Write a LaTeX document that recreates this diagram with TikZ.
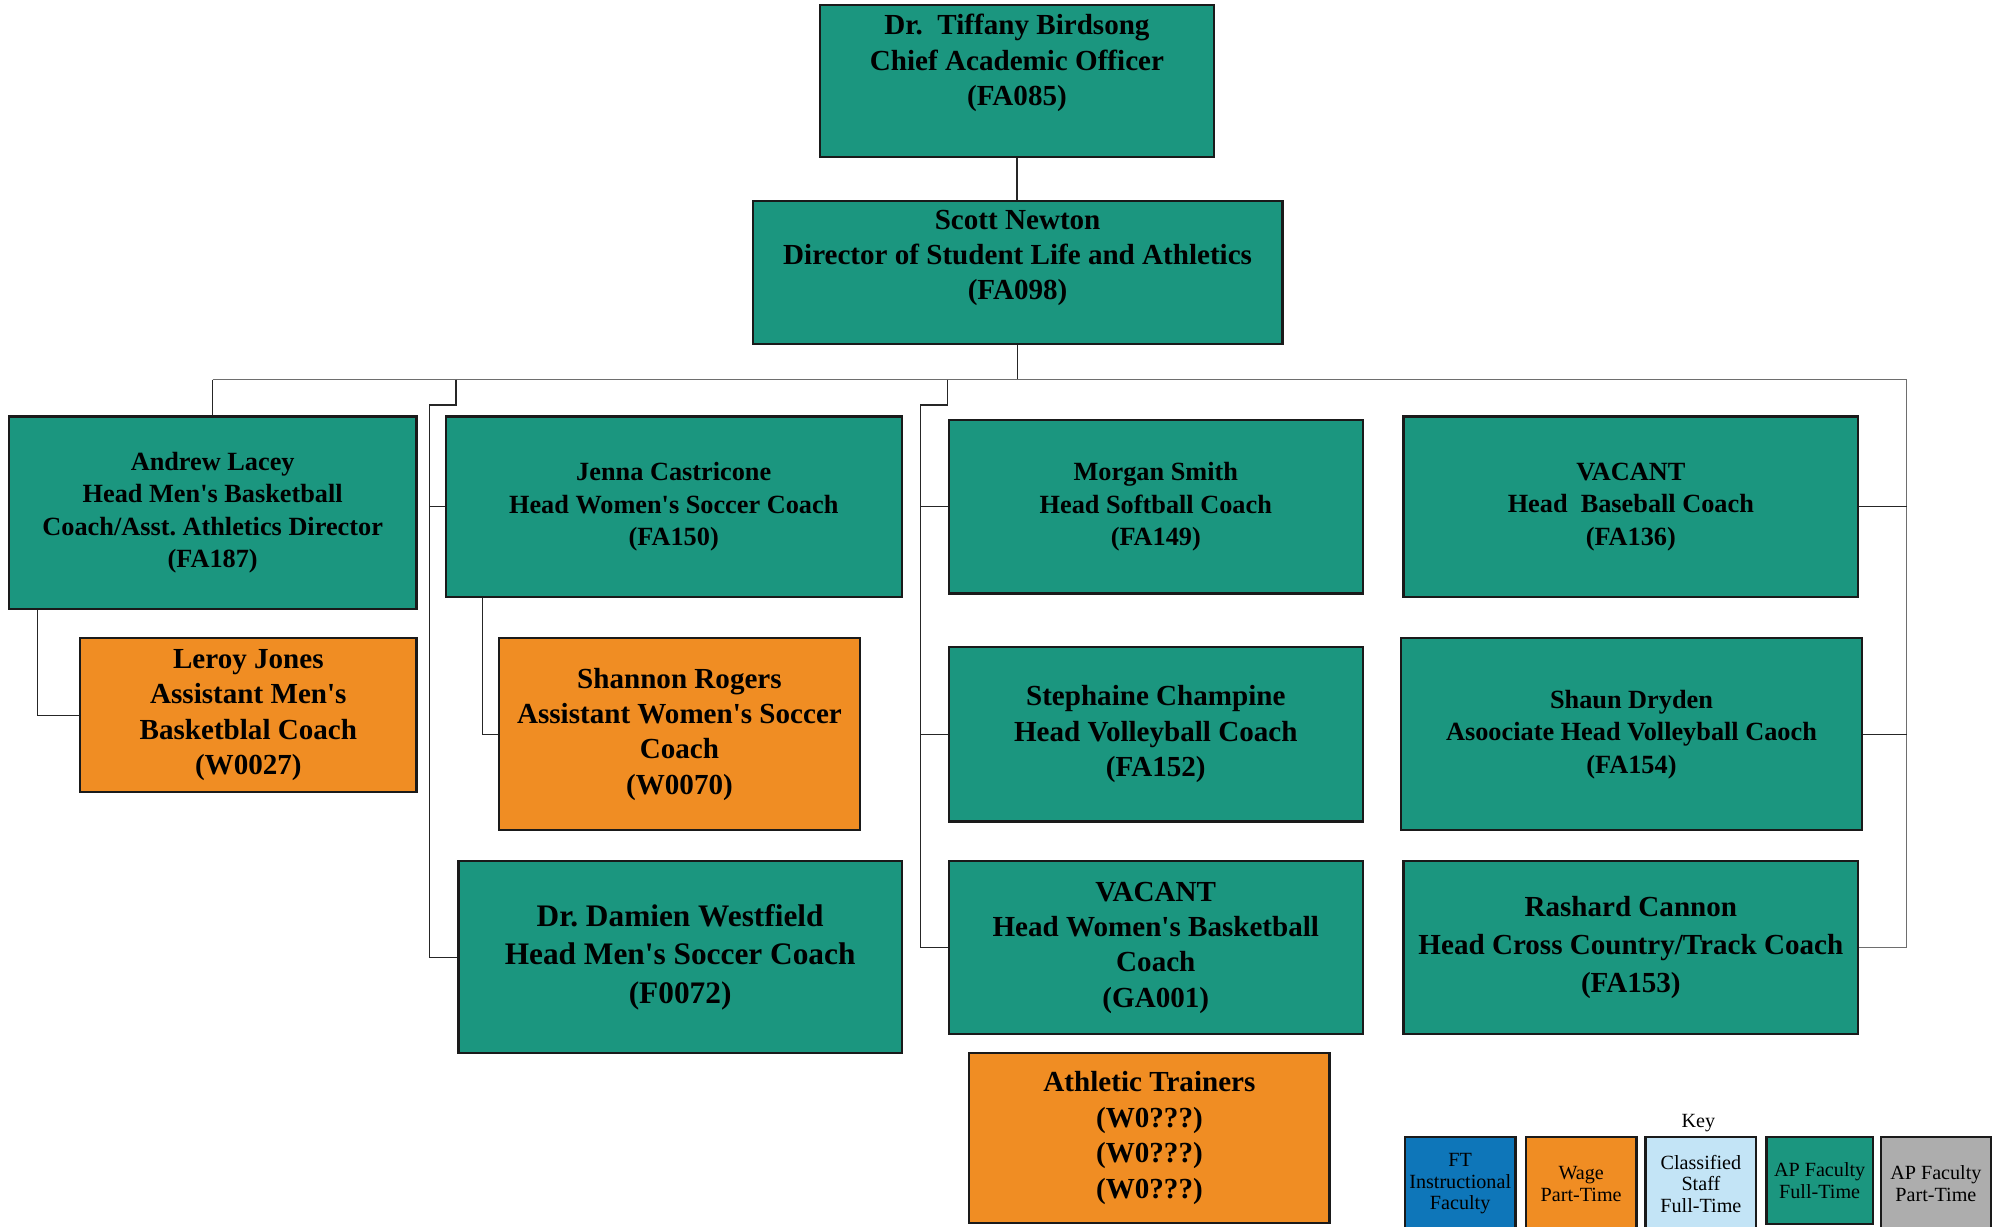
\documentclass[tikz,border=0pt]{standalone}
\usepackage{fontspec}
\setmainfont{Liberation Serif}
\usepackage{xcolor}
\usetikzlibrary{positioning,calc}

\definecolor{apteal}{HTML}{1B967F}
\definecolor{wageorange}{HTML}{F08D23}
\definecolor{ftblue}{HTML}{0E76B9}
\definecolor{staffblue}{HTML}{C3E4F6}
\definecolor{ptgray}{HTML}{ADADAD}
\definecolor{boxline}{HTML}{1A1A1A}
\definecolor{busgray}{HTML}{6E6E6E}

\newcommand{\apos}{\textquotesingle}
\frenchspacing

\tikzset{
  posbox/.style={draw=boxline, line width=1pt, inner sep=0pt, align=center},
  fulltime/.style={posbox, fill=apteal},
  wage/.style={posbox, fill=wageorange},
  txtA/.style={align=center, font=\bfseries\fontsize{11.75}{14.5}\selectfont},
  txtB/.style={align=center, font=\bfseries\fontsize{13}{15.8}\selectfont},
  txtC/.style={align=center, font=\bfseries\fontsize{14}{17.1}\selectfont},
  keybox/.style={draw=boxline, line width=1pt, inner sep=0pt, align=center,
    minimum height=1.46cm, font=\fontsize{9}{9.7}\selectfont},
  conn/.style={draw=black!85, line width=0.5pt},
  bus/.style={draw=busgray, line width=0.6pt}
}

\begin{document}
\frenchspacing
\begin{tikzpicture}[x=0.02cm, y=-0.02cm]
    \useasboundingbox (0,0) rectangle (1568,963);

    % top of the chart
    \node[fulltime, minimum width=6.18cm, minimum height=2.38cm,
      label={[txtB, yshift=0.28cm]center:Dr.\ \ Tiffany Birdsong\\Chief Academic Officer\\(FA085)}] (cao) at (798.5,63.5) {};
    \node[fulltime, minimum width=8.32cm, minimum height=2.24cm,
      label={[txtB, yshift=0.23cm]center:Scott Newton\\Director of Student Life and Athletics\\(FA098)}] (sn) at (799,214) {};

    % basketball / soccer
    \node[fulltime, txtA, minimum width=6.40cm, minimum height=3.02cm] (al) at (167,402.5)
      {Andrew Lacey\\Head Men\apos s Basketball\\Coach/Asst.\ Athletics Director\\(FA187)};
    \node[wage, txtB, minimum width=5.28cm, minimum height=2.42cm] (lj) at (195,561.5)
      {Leroy Jones\\Assistant Men\apos s\\Basketblal Coach\\(W0027)};
    \node[fulltime, txtA, minimum width=7.16cm, minimum height=2.84cm] (jc) at (529,398)
      {Jenna Castricone\\Head Women\apos s Soccer Coach\\(FA150)};
    \node[wage, txtB, minimum width=5.66cm, minimum height=3.02cm] (sr) at (533.5,576.5)
      {Shannon Rogers\\Assistant Women\apos s Soccer\\Coach\\(W0070)};
    \node[fulltime, txtC, minimum width=6.96cm, minimum height=3.02cm] (dw) at (534,751.5)
      {Dr.\ Damien Westfield\\Head Men\apos s Soccer Coach\\(F0072)};

    % softball / volleyball
    \node[fulltime, txtA, minimum width=6.50cm, minimum height=2.72cm] (ms) at (907.5,398)
      {Morgan Smith\\Head Softball Coach\\(FA149)};
    \node[fulltime, txtB, minimum width=6.50cm, minimum height=2.74cm] (sc) at (907.5,576.5)
      {Stephaine Champine\\Head Volleyball Coach\\(FA152)};
    \node[fulltime, txtB, minimum width=6.50cm, minimum height=2.72cm] (vwb) at (907.5,744)
      {VACANT\\Head Women\apos s Basketball\\Coach\\(GA001)};
    \node[wage, txtB, minimum width=5.66cm, minimum height=2.66cm] (at) at (902.5,893.5)
      {Athletic Trainers\\(W0???)\\(W0???)\\(W0???)};

    % baseball / track
    \node[fulltime, txtA, minimum width=7.14cm, minimum height=2.84cm] (vb) at (1280.5,398)
      {VACANT\\Head\ \ Baseball Coach\\(FA136)};
    \node[fulltime, txtA, minimum width=7.24cm, minimum height=3.02cm] (sd) at (1281,576.5)
      {Shaun Dryden\\Asoociate Head Volleyball Caoch\\(FA154)};
    \node[fulltime, minimum width=7.14cm, minimum height=2.72cm, align=center,
      font=\bfseries\fontsize{13}{16.8}\selectfont] (rc) at (1280.5,744)
      {Rashard Cannon\\Head Cross Country/Track Coach\\(FA153)};

    % key
    \node[font=\fontsize{9}{9.7}\selectfont] (keylbl) at (1333.5,882) {Key};
    \node[keybox, fill=ftblue, minimum width=1.74cm] (kft) at (1146.5,929.5) {FT\\Instructional\\Faculty};
    \node[keybox, fill=wageorange, minimum width=1.74cm] (kwage) at (1241.5,929.5) {Wage\\Part-Time};
    \node[keybox, fill=staffblue, minimum width=1.74cm] (kstaff) at (1335.5,929.5) {Classified\\Staff\\Full-Time};
    \node[keybox, fill=apteal, minimum width=1.67cm, minimum height=1.36cm] (kapft) at (1428.75,927) {AP Faculty\\Full-Time};
    \node[keybox, fill=ptgray, minimum width=1.72cm] (kappt) at (1520,929.5) {AP Faculty\\Part-Time};

    % connectors
    \coordinate (busL) at (167,298);
    \coordinate (busR) at (1497,298);
    \coordinate (c2) at (358,298);
    \coordinate (sp2) at (337,318);
    \coordinate (c3) at (744,298);
    \coordinate (sp3) at (723,318);

    \draw[conn] (cao.south) -- (cao.south |- sn.north);
    \draw[conn] (sn.south) -- (sn.south |- busL);
    \draw[bus] (busL) -- (busR);
    \draw[conn] (busL) -- (al.north);
    \draw[conn] ([xshift=0.46cm]al.south west) |- (lj.west);
    \draw[conn] (c2) |- (sp2) |- (dw.west);
    \draw[conn] (jc.west) -- (jc.west -| sp2);
    \draw[conn] ([xshift=0.6cm]jc.south west) |- (sr.west);
    \draw[conn] (c3) |- (sp3) |- (vwb.west);
    \draw[conn] (ms.west) -- (ms.west -| sp3);
    \draw[conn] (sc.west) -- (sc.west -| sp3);
    \draw[bus] (busR) |- (rc.east);
    \draw[conn] (vb.east) -- (vb.east -| busR);
    \draw[conn] (sd.east) -- (sd.east -| busR);
\end{tikzpicture}
\end{document}
